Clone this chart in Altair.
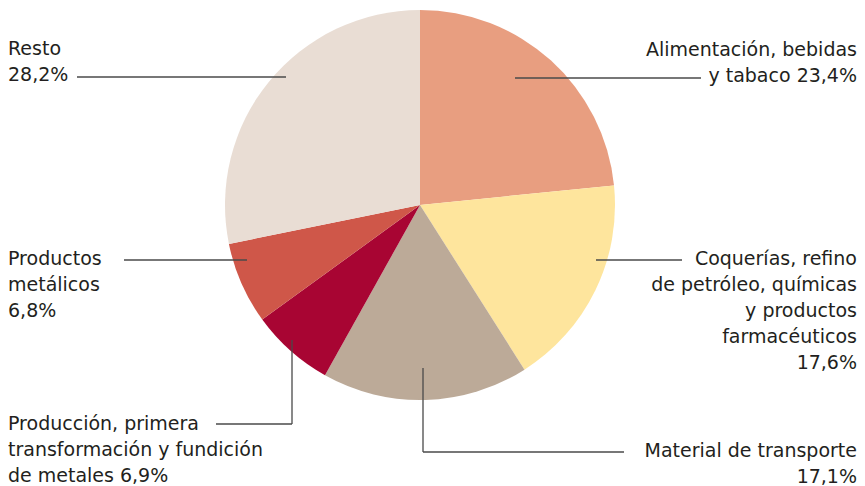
import altair as alt
import pandas as pd

# ---- data ----
categories = [
    "Alimentación, bebidas y tabaco",
    "Coquerías, refino de petróleo, químicas y productos farmacéuticos",
    "Material de transporte",
    "Producción, primera transformación y fundición de metales",
    "Productos metálicos",
    "Resto",
]
shares = [23.4, 17.6, 17.1, 6.9, 6.8, 28.2]
colors = ["#E89E80", "#FEE59D", "#BCAA98", "#A80533", "#CF5749", "#E9DDD4"]
label_lines = [
    ["Alimentación, bebidas", "y tabaco 23,4%"],
    ["Coquerías, refino", "de petróleo, químicas", "y productos", "farmacéuticos", "17,6%"],
    ["Material de transporte", "17,1%"],
    ["Producción, primera", "transformación y fundición", "de metales 6,9%"],
    ["Productos", "metálicos", "6,8%"],
    ["Resto", "28,2%"],
]

# ---- layout (page pixel coordinates) ----
OFF = 8
W, H = 849, 478
CX, CY, R = 420 - OFF, 205 - OFF, 195
LINE_H = 26
FONT = "DejaVu Sans"
FS = 19
# per label: anchor x, alignment, y of first line
label_pos = [
    (857, "right", 50),
    (857, "right", 259),
    (857, "right", 451),
    (8, "left", 424),
    (8, "left", 259),
    (8, "left", 49),
]
# leader segments: (x, y, x2, y2)
leaders = [
    (515, 78, 701, 78),
    (596, 260, 682, 260),
    (423, 368, 423, 452),
    (423, 452, 624, 452),
    (292, 340, 292, 424),
    (292, 424, 216, 424),
    (124, 260, 247, 260),
    (77, 77, 286, 77),
]

pie_df = pd.DataFrame({"category": categories, "share": shares, "order": list(range(len(categories)))})

rows = []
for lines, (lx, al, ly) in zip(label_lines, label_pos):
    for i, t in enumerate(lines):
        rows.append({"text": t, "x": lx - OFF, "y": ly - OFF + i * LINE_H, "align": al})
text_df = pd.DataFrame(rows)
seg_df = pd.DataFrame([{"x": a - OFF, "y": b - OFF, "x2": c - OFF, "y2": d - OFF} for a, b, c, d in leaders])

xs = alt.Scale(domain=[0, W], range=[0, W], nice=False, zero=False)
ys = alt.Scale(domain=[0, H], range=[0, H], nice=False, zero=False)

arc = alt.Chart(pie_df).mark_arc(outerRadius=R).encode(
    theta=alt.Theta("share:Q", stack=True),
    order=alt.Order("order:Q"),
    color=alt.Color("category:N", scale=alt.Scale(domain=categories, range=colors), legend=None),
    x=alt.value(CX),
    y=alt.value(CY),
)

rules = alt.Chart(seg_df).mark_rule(color="#4a4a4a", strokeWidth=1.3).encode(
    x=alt.X("x:Q", scale=xs, axis=None),
    y=alt.Y("y:Q", scale=ys, axis=None),
    x2="x2:Q",
    y2="y2:Q",
)

def text_layer(al):
    return alt.Chart(text_df[text_df["align"] == al]).mark_text(
        align=al, baseline="middle", font=FONT, fontSize=FS, color="#231F20"
    ).encode(
        x=alt.X("x:Q", scale=xs, axis=None),
        y=alt.Y("y:Q", scale=ys, axis=None),
        text="text:N",
    )

chart = alt.layer(arc, rules, text_layer("left"), text_layer("right")).properties(
    width=W, height=H, padding=0, autosize=alt.AutoSizeParams(type="none"), background="white"
).configure_view(stroke=None)

chart.save("out.html", embed_options={"renderer": "svg", "actions": False})
